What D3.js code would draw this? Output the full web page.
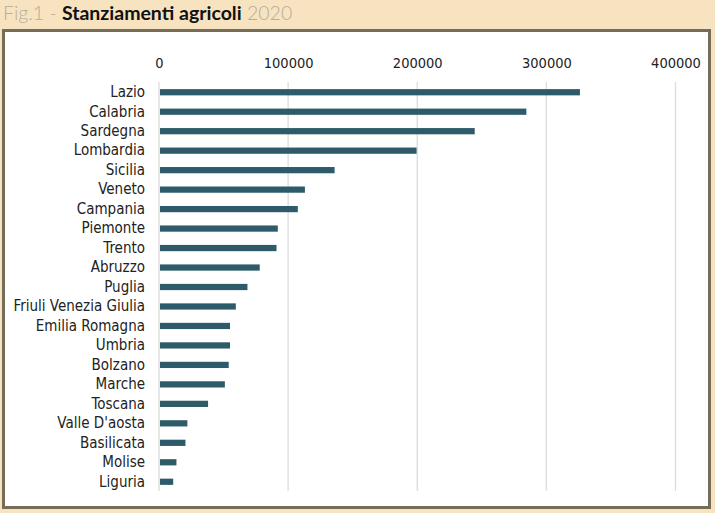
<!DOCTYPE html>
<html>
<head>
<meta charset="utf-8">
<script src="https://cdn.jsdelivr.net/npm/d3@7"></script>
<style>
  html, body { margin: 0; padding: 0; background: #f7e3c0; }
  svg { display: block; }
</style>
</head>
<body>
<div id="chart"></div>
<script>
var regions = ['Lazio', 'Calabria', 'Sardegna', 'Lombardia', 'Sicilia', 'Veneto', 'Campania',
  'Piemonte', 'Trento', 'Abruzzo', 'Puglia', 'Friuli Venezia Giulia', 'Emilia Romagna',
  'Umbria', 'Bolzano', 'Marche', 'Toscana', "Valle D'aosta", 'Basilicata', 'Molise', 'Liguria'];
var values = [326000, 284500, 244500, 199500, 136000, 113000, 107500,
  92000, 91000, 78000, 68500, 59500, 55000,
  55000, 54000, 51000, 38000, 22000, 20500, 13500, 11000];
var ticks = [0, 100000, 200000, 300000, 400000];

var W = 715, H = 513;
var svg = d3.select('#chart').append('svg')
  .attr('width', W)
  .attr('height', H);

// background + title
svg.append('rect').attr('width', W).attr('height', H).attr('fill', '#f7e3c0');
var title = svg.append('text')
  .attr('x', 3)
  .attr('y', 20)
  .style('font-family', 'Lato, "Noto Sans", sans-serif')
  .style('font-size', '19.5px');
title.append('tspan').attr('fill', '#b8ad9c').style('font-weight', 300).text('Fig.1 - ');
title.append('tspan').attr('fill', '#111').style('font-weight', 'bold').text('Stanziamenti agricoli');
title.append('tspan').attr('fill', '#b8ad9c').style('font-weight', 300).text(' 2020');

// framed white panel
svg.append('rect')
  .attr('x', 3.5).attr('y', 30.5)
  .attr('width', 706).attr('height', 477)
  .attr('fill', '#fff')
  .attr('stroke', '#766c5a')
  .attr('stroke-width', 3);

var x = d3.scaleLinear().domain([0, 400000]).range([159, 675.5]);
var y = d3.scaleBand().domain(regions).range([82.5, 491.5]).paddingInner(0.68).paddingOuter(0.34);

// gridlines
svg.append('g').selectAll('line')
  .data(ticks)
  .enter()
  .append('line')
  .attr('x1', function(d) { return x(d); })
  .attr('x2', function(d) { return x(d); })
  .attr('y1', 82)
  .attr('y2', 491)
  .attr('stroke', '#dcdcdc')
  .attr('stroke-width', 1.3);

// top axis labels
var xAxis = svg.append('g')
  .attr('transform', 'translate(0,68)')
  .call(d3.axisTop(x).tickValues(ticks).tickFormat(d3.format('d')).tickSize(0).tickPadding(0));
xAxis.select('.domain').remove();
xAxis.selectAll('text')
  .attr('fill', '#222')
  .style('font-family', '"DejaVu Sans Condensed", "Open Sans", sans-serif')
  .style('font-size', '14.5px');

// category labels
var yAxis = svg.append('g')
  .attr('transform', 'translate(145,0)')
  .call(d3.axisLeft(y).tickSize(0).tickPadding(0));
yAxis.select('.domain').remove();
yAxis.selectAll('text')
  .attr('fill', '#222')
  .style('font-family', '"DejaVu Sans Condensed", "Open Sans", sans-serif')
  .style('font-size', '15px');

// bars
svg.append('g').selectAll('rect')
  .data(regions)
  .enter()
  .append('rect')
  .attr('x', x(0) + 1)
  .attr('y', function(d) { return y(d); })
  .attr('width', function(d, i) { return x(values[i]) - x(0) - 1; })
  .attr('height', y.bandwidth())
  .attr('fill', '#2e5b6a');
</script>
</body>
</html>
